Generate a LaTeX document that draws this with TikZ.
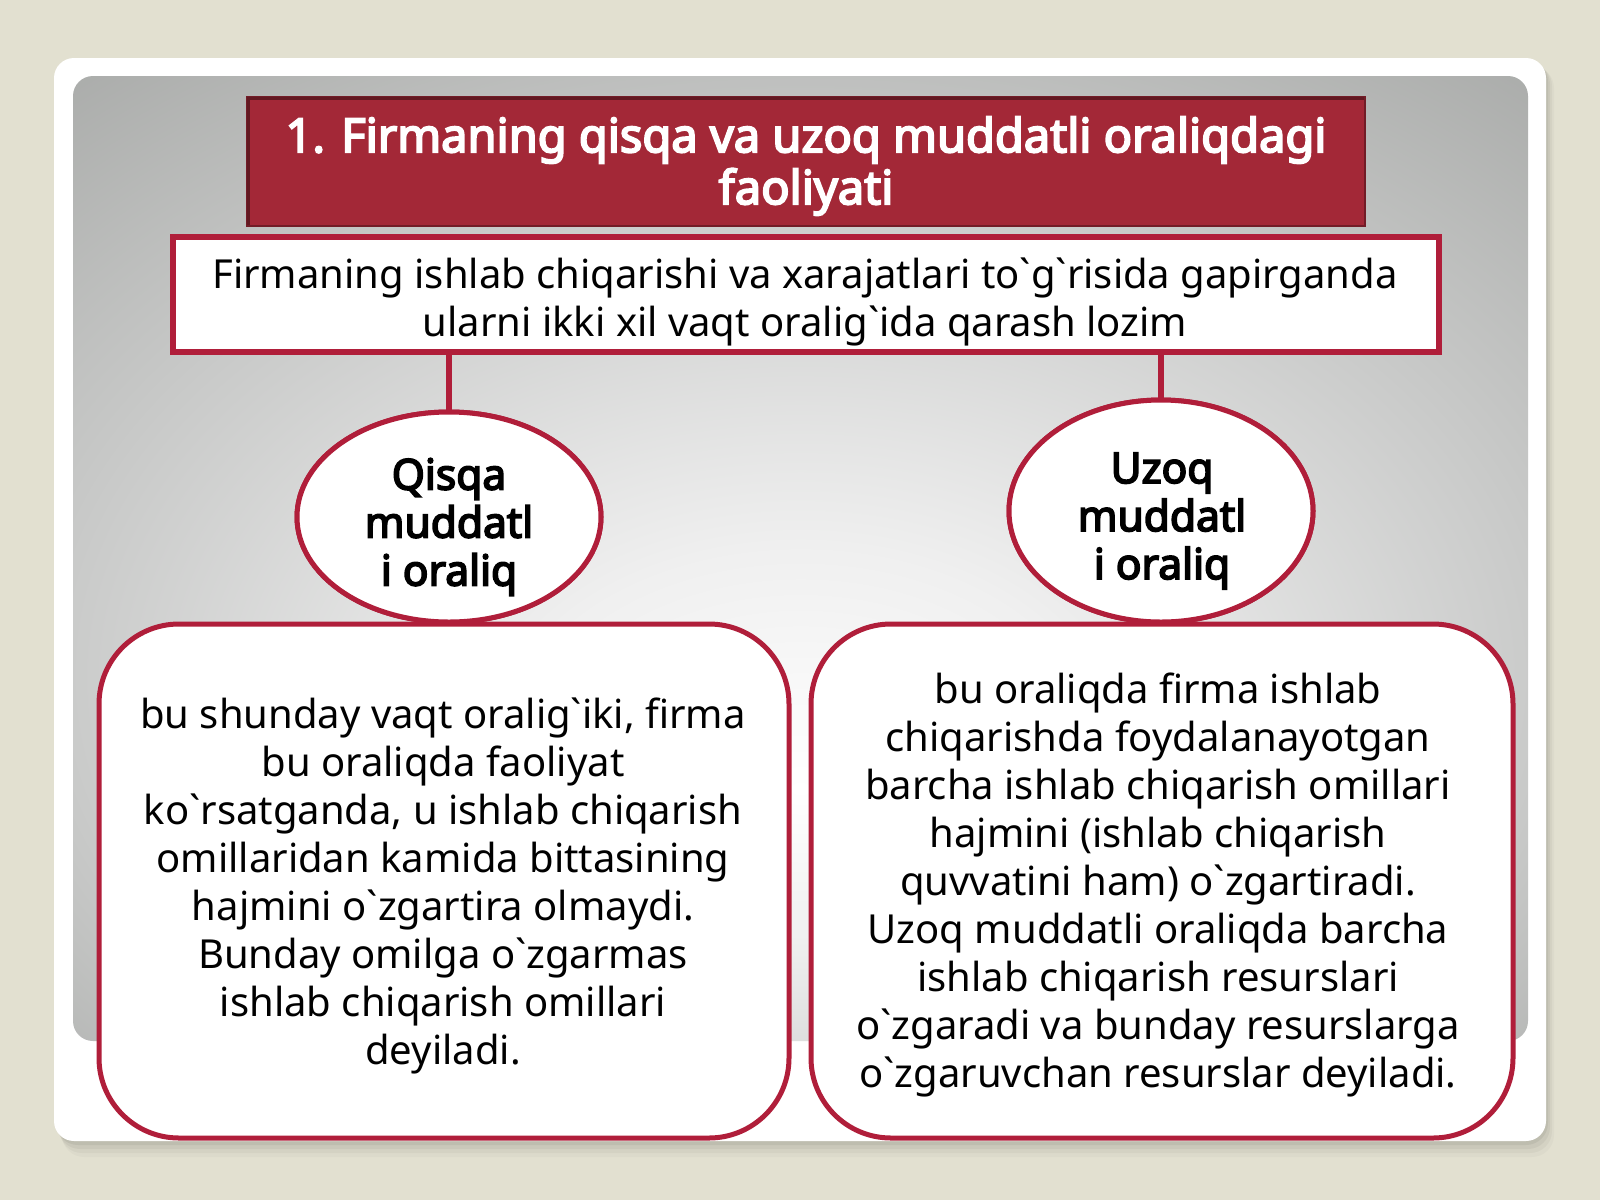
\documentclass[tikz,border=0pt]{standalone}
\usepackage{fontspec}
\usepackage{xcolor}
\usetikzlibrary{shapes.geometric}
\newfontfamily\slidefont{Noto Sans}
\newfontfamily\slideboldfont{Noto Sans}[FakeBold=4]
\definecolor{deskbg}{RGB}{226,224,208}
\definecolor{panelgray}{RGB}{160,162,160}
\definecolor{titlered}{RGB}{163,40,55}
\definecolor{edgered}{RGB}{176,30,58}
\pgfdeclareradialshading{panelglow}{\pgfpoint{0bp}{-12bp}}{color(0bp)=(white); color(10bp)=(white!94!black); color(42bp)=(panelgray); color(50bp)=(panelgray)}
\begin{document}
\begin{tikzpicture}[x=1pt, y=-1pt,
        box/.style = {draw=edgered, line width=5pt, fill=white, inner sep=0pt},
        tag/.style = {ellipse, draw=edgered, line width=5pt, fill=white, inner sep=0pt},
        link/.style = {draw=edgered, line width=6pt},
        headtext/.style = {font=\slideboldfont\fontsize{47}{52}\selectfont, text=white, align=center, inner sep=0pt},
        bodytext/.style = {font=\slidefont\fontsize{40}{48}\selectfont, align=center, inner sep=0pt},
        tagtext/.style = {font=\slideboldfont\fontsize{42.5}{48}\selectfont, align=center, inner sep=0pt}]
        \useasboundingbox (0,0) rectangle (1600,1200);
        \fill[deskbg] (0,0) rectangle (1600,1200);
        \foreach \s/\o in {16/0.025, 12/0.035, 8/0.045, 4/0.055}
            \fill[black, opacity=\o, rounded corners=22pt] (54+\s/2,58+\s/2) rectangle (1546+\s/2,1141+\s);
        \fill[white, rounded corners=20pt] (54,58) rectangle (1546,1141);
        \shade[shading=panelglow, rounded corners=20pt] (73,76) rectangle (1528,1041);

        \node[draw=titlered!70!black, line width=1.5pt, fill=titlered, minimum width=1118, minimum height=129, inner sep=0pt] (heading) at (806,161.5) {};
        \draw[titlered!60!black, line width=3pt] ([xshift=2pt, yshift=2pt]heading.south west) |- ([xshift=-2pt, yshift=-2pt]heading.north east);
        \node[headtext] (headingText) at (806,166) {1. Firmaning qisqa va uzoq muddatli oraliqdagi\\faoliyati};

        \node[box, line width=6pt, minimum width=1266, minimum height=115] (intro) at (806,294.5) {};
        \node[bodytext] (introText) at (805,302) {Firmaning ishlab chiqarishi va xarajatlari to`g`risida gapirganda\\ularni ikki xil vaqt oralig`ida qarash lozim};

        \node[tag, minimum width=304, minimum height=210] (shortTag) at (449,517) {};
        \node[tag, minimum width=304, minimum height=222] (longTag) at (1161,511) {};
        \draw[link] (intro.south -| shortTag.north) -- (shortTag.north);
        \draw[link] (intro.south -| longTag.north) -- (longTag.north);
        \node[tag, minimum width=304, minimum height=210] at (shortTag) {};
        \node[tag, minimum width=304, minimum height=222] at (longTag) {};
        \node[tagtext] (shortTagText) at (449,527) {Qisqa\\muddatl\\i oraliq};
        \node[tagtext] (longTagText) at (1162,521) {Uzoq\\muddatl\\i oraliq};

        \node[box, rounded corners=80pt, minimum width=690, minimum height=514] (shortBox) at (444,881) {};
        \node[box, rounded corners=80pt, minimum width=702, minimum height=514] (longBox) at (1162,881) {};
        \node[bodytext] (shortText) at (443,886) {bu shunday vaqt oralig`iki, firma\\bu oraliqda faoliyat\\ko`rsatganda, u ishlab chiqarish\\omillaridan kamida bittasining\\hajmini o`zgartira olmaydi.\\Bunday omilga o`zgarmas\\ishlab chiqarish omillari\\deyiladi.};
        \node[bodytext] (longText) at (1158,885) {bu oraliqda firma ishlab\\chiqarishda foydalanayotgan\\barcha ishlab chiqarish omillari\\hajmini (ishlab chiqarish\\quvvatini ham) o`zgartiradi.\\Uzoq muddatli oraliqda barcha\\ishlab chiqarish resurslari\\o`zgaradi va bunday resurslarga\\o`zgaruvchan resurslar deyiladi.};
    \end{tikzpicture}
\end{document}
